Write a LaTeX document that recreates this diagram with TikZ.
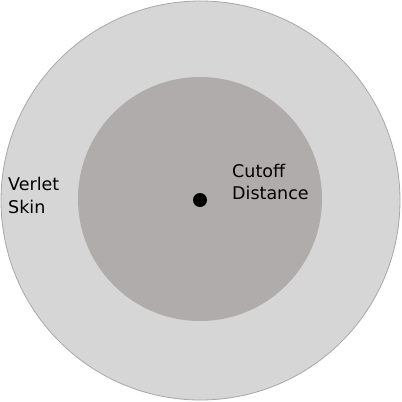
\documentclass[tikz,border=0pt]{standalone}
\usepackage{fontspec}
\setmainfont{DejaVu Sans}
\definecolor{skinfill}{HTML}{D6D6D6}
\definecolor{skinline}{HTML}{A8A8A8}
\definecolor{cutfill}{HTML}{B0ACAB}
\begin{document}
\begin{tikzpicture}[x=1pt,y=-1pt,
  lbl/.style={inner sep=0pt,align=left,font=\fontsize{17.5}{22.5}\selectfont,anchor=base west}]
\useasboundingbox (0,0) rectangle (402,402);
\node[circle,draw=skinline,line width=0.8pt,fill=skinfill,minimum size=399pt,inner sep=0pt] (skin) at (200.5,200.5) {};
\node[circle,fill=cutfill,minimum size=244pt,inner sep=0pt] (cut) at (200,199) {};
\node[circle,fill=black,minimum size=14pt,inner sep=0pt] (atom) at (200,200) {};
\node[lbl] (vs) at (8,213.3) {Verlet\\Skin};
\node[lbl] (cd) at (232,199.5) {Cutoff\\Distance};
\end{tikzpicture}
\end{document}
